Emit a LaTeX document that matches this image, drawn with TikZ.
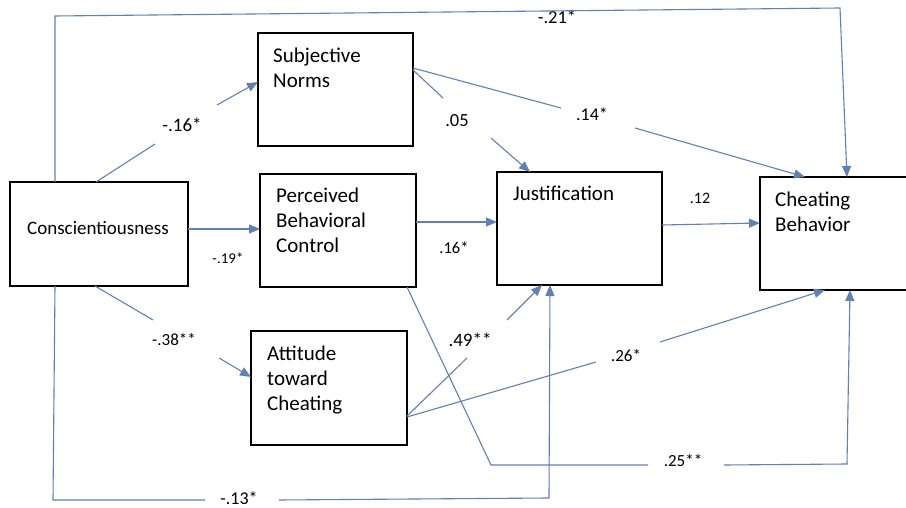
\documentclass[tikz,border=0pt]{standalone}
\usepackage{fontspec}
\setmainfont{Carlito}
\usetikzlibrary{arrows.meta,calc}
\definecolor{lc}{RGB}{98,128,178}
\begin{document}
\begin{tikzpicture}[x=1pt,y=-1pt,
 box/.style={draw=black,line width=1.8pt,inner sep=0pt,outer sep=0pt,anchor=north west,rectangle},
 btxt/.style={anchor=north west,inner sep=0pt,align=left,font=\fontsize{21}{25}\selectfont},
 conn/.style={draw=lc,line width=1.1pt},
 arr/.style={conn,-{Triangle[length=11pt,width=9pt]}},
 lab/.style={anchor=base,inner sep=0pt,font=\fontsize{18}{20}\selectfont}]
\useasboundingbox (0,0) rectangle (906,508);
% boxes
\node[box,minimum width=178pt,minimum height=104pt] (C) at (10,182) {};
\node[box,minimum width=155pt,minimum height=113pt] (SN) at (258,33) {};
\node[box,minimum width=156pt,minimum height=113pt] (PBC) at (260,174) {};
\node[box,minimum width=156pt,minimum height=114pt] (AT) at (251,331) {};
\node[box,minimum width=165pt,minimum height=113pt] (J) at (497,172) {};
\node[box,minimum width=152pt,minimum height=113pt] (CB) at (760,177) {};
% box texts
\node[anchor=base west,inner sep=0pt,font=\fontsize{19}{23}\selectfont] (Ct) at (27,235) {Conscientiousness};
\node[btxt] (SNt) at (273,48) {Subjective\\Norms};
\node[btxt] (PBCt) at (276,188) {Perceived\\Behavioral\\Control};
\node[btxt] (ATt) at (267,346) {Attitude\\toward\\Cheating};
\node[anchor=base west,inner sep=0pt,font=\fontsize{21}{25}\selectfont] (Jt) at (513,201) {Justification};
\node[btxt] (CBt) at (775,192) {Cheating\\Behavior};
% labels
\node[lab,font=\fontsize{18.5}{20}\selectfont] (l21) at (557,24) {-.21*};
\node[lab,font=\fontsize{19}{20}\selectfont] (l16) at (182,132) {-.16*};
\node[lab,font=\fontsize{15}{18}\selectfont] (l19) at (228,264) {-.19*};
\node[lab,font=\fontsize{17}{20}\selectfont] (l38) at (174,345) {-.38**};
\node[lab,font=\fontsize{18.5}{20}\selectfont] (l05) at (457,127) {.05};
\node[lab] (l14) at (592,121) {.14*};
\node[lab,font=\fontsize{16.5}{20}\selectfont] (l16b) at (454,254) {.16*};
\node[lab,font=\fontsize{16}{20}\selectfont] (l12) at (700,204) {.12};
\node[lab,font=\fontsize{19}{20}\selectfont] (l49) at (470,346) {.49**};
\node[lab,font=\fontsize{17}{20}\selectfont] (l26) at (626,361) {.26*};
\node[lab,font=\fontsize{17}{20}\selectfont] (l25) at (683,466) {.25**};
\node[lab,font=\fontsize{18}{20}\selectfont] (l13) at (239,504) {-.13*};
% bend / gap coordinates
\coordinate (t1) at (55,16);
\coordinate (t2) at (840,8);
\coordinate (g16a) at (155,144);
\coordinate (g16b) at (217,105);
\coordinate (g38a) at (153,320);
\coordinate (g38b) at (219,358);
\coordinate (g05a) at (443,98);
\coordinate (g05b) at (491,138);
\coordinate (g14a) at (561,108);
\coordinate (g14b) at (635,128);
\coordinate (b25) at (491,465);
\coordinate (g25a) at (648,465);
\coordinate (g25b) at (724,465);
\coordinate (c25) at (847,464);
\coordinate (g49a) at (467,358);
\coordinate (g49b) at (507,320);
\coordinate (g26a) at (596,362);
\coordinate (g26b) at (660,342);
\coordinate (b13) at (53,500);
\coordinate (g13a) at (205,500);
\coordinate (g13b) at (279,500);
\coordinate (c13) at (549,498);
% connectors
\draw[arr] ($(C.north west)+(45,0)$) -- (t1) -- (t2) -- ($(CB.north west)+(87,0)$);
\draw[conn] ($(C.north west)+(86,0)$) -- (g16a);
\draw[arr] (g16b) -- ($(SN.north west)+(0,49)$);
\draw[arr] ($(C.north east)+(0,47)$) -- ($(PBC.north west)+(0,55)$);
\draw[conn] ($(C.south west)+(85,0)$) -- (g38a);
\draw[arr] (g38b) -- ($(AT.north west)+(0,46)$);
\draw[conn] ($(SN.north east)+(0,37)$) -- (g05a);
\draw[arr] (g05b) -- ($(J.north west)+(33,0)$);
\draw[conn] ($(SN.north east)+(0,35)$) -- (g14a);
\draw[arr] (g14b) -- ($(CB.north west)+(45,0)$);
\draw[arr] ($(PBC.north east)+(0,48)$) -- ($(J.north west)+(0,50)$);
\draw[arr] ($(J.north east)+(0,53)$) -- ($(CB.north west)+(0,46)$);
\draw[conn] ($(PBC.south west)+(147,0)$) -- (b25) -- (g25a);
\draw[arr] (g25b) -- (c25) -- ($(CB.south west)+(90,0)$);
\draw[conn] ($(AT.north east)+(0,85)$) -- (g49a);
\draw[arr] (g49b) -- ($(J.south west)+(45,0)$);
\draw[conn] ($(AT.north east)+(0,86)$) -- (g26a);
\draw[arr] (g26b) -- ($(CB.south west)+(65,0)$);
\draw[conn] ($(C.south west)+(45,0)$) -- (b13) -- (g13a);
\draw[arr] (g13b) -- (c13) -- ($(J.south west)+(53,0)$);
\end{tikzpicture}
\end{document}
